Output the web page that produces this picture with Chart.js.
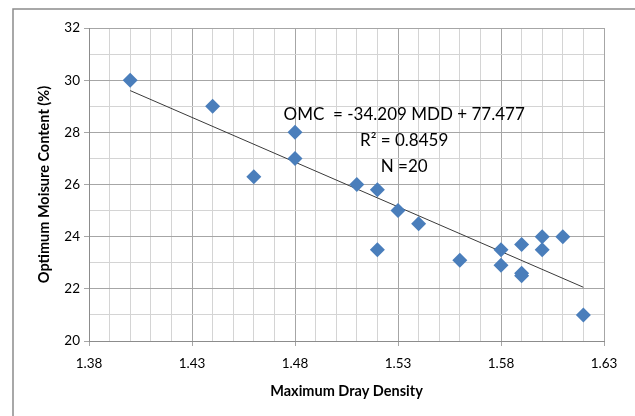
<!DOCTYPE html>
<html>
<head>
<meta charset="utf-8">
<script src="https://cdn.jsdelivr.net/npm/chart.js@4/dist/chart.umd.min.js"></script>
<style>
    html, body { margin: 0; padding: 0; background: #fff; }
    #wrap { width: 635px; height: 416px; }
</style>
</head>
<body>
<div id="wrap"><canvas id="omcChart" width="635" height="416"></canvas></div>
<script>
// Data
const mddValues = [1.40, 1.44, 1.46, 1.48, 1.48, 1.51, 1.52, 1.52, 1.53, 1.54,
                   1.56, 1.58, 1.58, 1.59, 1.59, 1.59, 1.60, 1.60, 1.61, 1.62];
const omcValues = [30.0, 29.0, 26.3, 28.0, 27.0, 26.0, 25.8, 23.5, 25.0, 24.5,
                   23.1, 23.5, 22.9, 23.7, 22.6, 22.5, 24.0, 23.5, 24.0, 21.0];

// Linear trendline end points
const trendX = [1.40, 1.62];
const trendY = [29.6, 22.06];

const xTickLabels = ['1.38', '1.43', '1.48', '1.53', '1.58', '1.63'];
const yTickLabels = ['20', '22', '24', '26', '28', '30', '32'];

const equationLines = ['OMC  = -34.209 MDD + 77.477', 'R\u00B2 = 0.8459', 'N =20'];

const FONT = "Lato, 'Open Sans', sans-serif";
const MAJOR = '#a6a6a6';
const MINOR = '#d4d4d4';

// x minor every 0.01, major every 0.05; y minor every 1, major every 2
function isMajorX(v) { return xTickLabels.includes(v.toFixed(2)); }
function isMajorY(v) { return yTickLabels.includes(String(Math.round(v))); }

// Outer frame (only left and top edges visible in the reference)
const framePlugin = {
    id: 'frame',
    beforeDraw(chart) {
        const ctx = chart.ctx;
        ctx.save();
        ctx.strokeStyle = '#8c8c8c';
        ctx.lineWidth = 1.5;
        ctx.beginPath();
        ctx.moveTo(13, 420);
        ctx.lineTo(13, 9);
        ctx.lineTo(640, 9);
        ctx.stroke();
        ctx.restore();
    }
};

// Regression equation label
const equationPlugin = {
    id: 'equation',
    afterDatasetsDraw(chart) {
        const ctx = chart.ctx;
        const x = chart.scales.x.getPixelForValue(1.533);
        const y = chart.scales.y.getPixelForValue(28.7);
        ctx.save();
        ctx.fillStyle = '#000';
        ctx.font = '17px ' + FONT;
        ctx.textAlign = 'center';
        ctx.textBaseline = 'middle';
        equationLines.forEach((line, i) => ctx.fillText(line, x, y + i * 26));
        ctx.restore();
    }
};

const ctx = document.getElementById('omcChart').getContext('2d');
new Chart(ctx, {
    data: {
        datasets: [{
            type: 'scatter',
            data: mddValues.map((x, i) => ({ x, y: omcValues[i] })),
            pointStyle: 'rectRot',
            pointRadius: 7.5,
            backgroundColor: '#4a7ebb',
            borderColor: '#4a7ebb',
            borderWidth: 0,
            order: 1
        }, {
            type: 'line',
            data: trendX.map((x, i) => ({ x, y: trendY[i] })),
            borderColor: '#3a3a3a',
            borderWidth: 1,
            pointRadius: 0,
            fill: false,
            order: 2
        }]
    },
    options: {
        responsive: false,
        animation: false,
        layout: { padding: { top: 28, right: 31, left: 0, bottom: 0 } },
        plugins: {
            legend: { display: false },
            tooltip: { enabled: false }
        },
        scales: {
            x: {
                type: 'linear',
                min: 1.38,
                max: 1.63,
                afterBuildTicks: axis => {
                    const ticks = [];
                    for (let i = 0; i <= 25; i++) ticks.push({ value: Math.round((1.38 + i * 0.01) * 100) / 100 });
                    axis.ticks = ticks;
                },
                afterFit: scale => { scale.height = 75; },
                grid: {
                    color: c => c.tick && isMajorX(c.tick.value) ? MAJOR : MINOR,
                    tickColor: c => c.tick && isMajorX(c.tick.value) ? MAJOR : 'rgba(0,0,0,0)',
                    tickLength: 5
                },
                border: { color: '#8c8c8c' },
                ticks: {
                    autoSkip: false,
                    maxRotation: 0,
                    padding: 10,
                    color: '#000',
                    font: { family: FONT, size: 13.5 },
                    callback: value => isMajorX(value) ? value.toFixed(2) : ''
                },
                title: {
                    display: true,
                    text: 'Maximum Dray Density',
                    color: '#000',
                    font: { family: FONT, size: 14.5, weight: 'bold' },
                    padding: { top: 0, bottom: 16 }
                }
            },
            y: {
                type: 'linear',
                min: 20,
                max: 32,
                afterBuildTicks: axis => {
                    const ticks = [];
                    for (let v = 20; v <= 32; v++) ticks.push({ value: v });
                    axis.ticks = ticks;
                },
                afterFit: scale => { scale.width = 89; },
                grid: {
                    color: c => c.tick && isMajorY(c.tick.value) ? MAJOR : MINOR,
                    tickColor: c => c.tick && isMajorY(c.tick.value) ? MAJOR : 'rgba(0,0,0,0)',
                    tickLength: 5
                },
                border: { color: '#8c8c8c' },
                ticks: {
                    autoSkip: false,
                    padding: 4,
                    color: '#000',
                    font: { family: FONT, size: 13.5 },
                    callback: value => isMajorY(value) ? String(value) : ''
                },
                title: {
                    display: true,
                    text: 'Optimum Moisure Content (%)',
                    color: '#000',
                    font: { family: FONT, size: 14.5, weight: 'bold' },
                    padding: { top: 36, bottom: 0 }
                }
            }
        }
    },
    plugins: [framePlugin, equationPlugin]
});
</script>
</body>
</html>
